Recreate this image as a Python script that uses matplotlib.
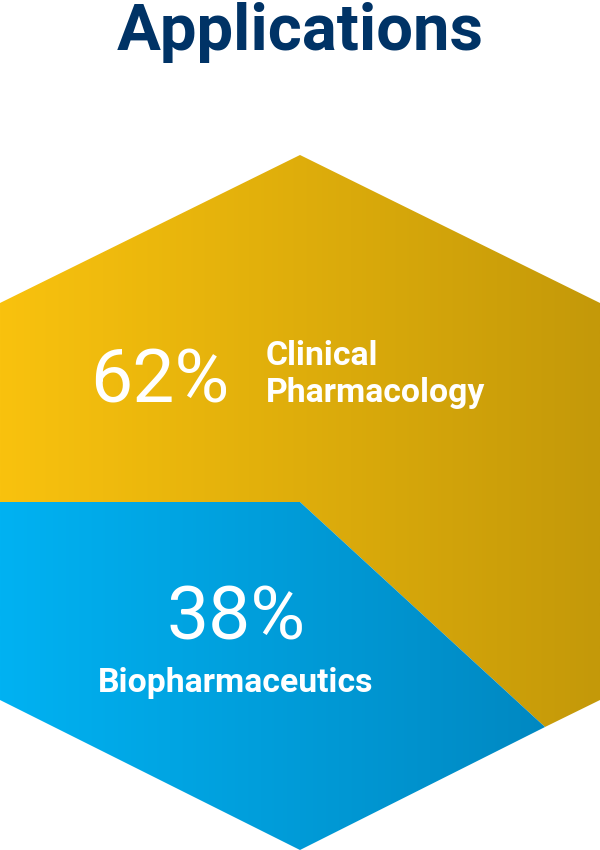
import numpy as np
import matplotlib.pyplot as plt
from matplotlib.patches import Polygon

# Data
title = "Applications"
shares = [62, 38]
labels = ["Clinical\nPharmacology", "Biopharmaceutics"]
colors_left = ["#F9C20E", "#00B2F2"]
colors_right = ["#C49909", "#0084BD"]

# hexagon outline and the split (pixel coords, y down)
lower_part = [(0, 502), (300, 502), (545, 727), (300, 850), (0, 700)]
upper_part = [(0, 303), (300, 155), (600, 303), (600, 700), (545, 727),
              (300, 502), (0, 502)]

fig = plt.figure(figsize=(6, 8.5), dpi=100)
ax = fig.add_axes([0, 0, 1, 1])
ax.set_xlim(0, 600)
ax.set_ylim(850, 0)
ax.axis('off')


def gradient_fill(ax, verts, c1, c2):
    c1 = np.array(plt.matplotlib.colors.to_rgb(c1))
    c2 = np.array(plt.matplotlib.colors.to_rgb(c2))
    t = np.linspace(0, 1, 256)[None, :, None]
    img = c1 * (1 - t) + c2 * t
    im = ax.imshow(img, extent=(0, 600, 850, 0), aspect='auto', zorder=1,
                   interpolation='bilinear')
    poly = Polygon(verts, closed=True, facecolor='none', edgecolor='none',
                   transform=ax.transData)
    ax.add_patch(poly)
    im.set_clip_path(poly)


gradient_fill(ax, upper_part, colors_left[0], colors_right[0])
gradient_fill(ax, lower_part, colors_left[1], colors_right[1])
ax.set_xlim(0, 600)
ax.set_ylim(850, 0)

ax.text(300, 50, title, ha='center', va='baseline', fontsize=47,
        fontweight='bold', family='Roboto', color='#003366', zorder=5)

# 62% block
ax.text(160, 402, f"{shares[0]}%", ha='center', va='baseline', fontsize=54,
        fontweight='normal', family='Roboto', color='white', zorder=5)
ax.text(266, 402, labels[0], ha='left', va='baseline', fontsize=24.3,
        fontweight='bold', family='Roboto', color='white', zorder=5,
        linespacing=1.2)

# 38% block
ax.text(236, 640, f"{shares[1]}%", ha='center', va='baseline', fontsize=54,
        fontweight='normal', family='Roboto', color='white', zorder=5)
ax.text(236, 692, labels[1], ha='center', va='baseline', fontsize=24.3,
        fontweight='bold', family='Roboto', color='white', zorder=5)

fig.savefig('out.png', dpi=100)
